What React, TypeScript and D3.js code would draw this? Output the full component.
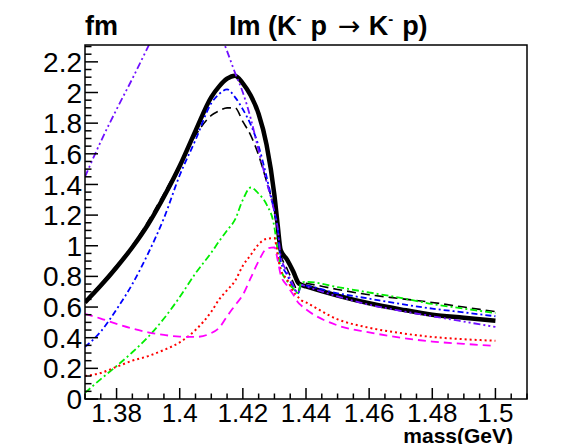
import * as d3 from "d3";

// mass grid (GeV) shared by every curve
const mass = [
  1.37, 1.375, 1.38, 1.385, 1.39, 1.395, 1.4, 1.405, 1.41, 1.4125, 1.415, 1.4175, 1.42, 1.4225, 1.425,
  1.4275, 1.43, 1.431, 1.432, 1.434, 1.436, 1.4375, 1.4385, 1.44, 1.45, 1.46, 1.47, 1.48, 1.49, 1.5,
];

// Im amplitude (fm) for each model
const fullIm = [
  0.63, 0.74, 0.86, 0.99, 1.14, 1.32, 1.52, 1.75, 1.97, 2.04, 2.09, 2.11, 2.06, 1.98, 1.86,
  1.66, 1.33, 1.14, 0.97, 0.91, 0.83, 0.76, 0.745, 0.735, 0.675, 0.625, 0.585, 0.55, 0.53, 0.51,
];
const dashedIm = [
  0.64, 0.75, 0.87, 1.0, 1.16, 1.34, 1.53, 1.72, 1.85, 1.88, 1.9, 1.9, 1.81, 1.72, 1.59,
  1.42, 1.22, 1.08, 0.95, 0.85, 0.76, 0.7, 0.76, 0.755, 0.715, 0.68, 0.655, 0.63, 0.6, 0.57,
];
const blueIm = [
  0.34, 0.44, 0.585, 0.75, 0.95, 1.18, 1.46, 1.69, 1.93, 1.99, 2.02, 1.97, 1.89, 1.79, 1.65,
  1.45, 1.22, 1.12, 0.9, 0.81, 0.73, 0.69, 0.745, 0.74, 0.69, 0.655, 0.62, 0.59, 0.565, 0.54,
];
const violetIm = [
  1.45, 1.68, 1.89, 2.09, 2.3, 2.51, 2.72, 2.78, 2.52, 2.4, 2.27, 2.13, 2.0, 1.83, 1.62,
  1.42, 1.22, 1.12, 0.93, 0.83, 0.74, 0.69, 0.745, 0.735, 0.67, 0.615, 0.575, 0.54, 0.505, 0.47,
];
const greenIm = [
  0.04, 0.13, 0.215, 0.305, 0.405, 0.525, 0.665, 0.82, 0.955, 1.03, 1.1, 1.17, 1.3, 1.38, 1.34,
  1.27, 1.12, 0.97, 0.85, 0.77, 0.72, 0.69, 0.76, 0.765, 0.73, 0.695, 0.66, 0.62, 0.59, 0.56,
];
const redIm = [
  0.15, 0.17, 0.21, 0.25, 0.28, 0.32, 0.37, 0.45, 0.57, 0.65, 0.71, 0.77, 0.87, 0.94, 1.01,
  1.045, 1.05, 0.94, 0.84, 0.78, 0.7, 0.665, 0.645, 0.63, 0.52, 0.465, 0.43, 0.405, 0.39, 0.38,
];
const magentaIm = [
  0.556, 0.525, 0.49, 0.46, 0.435, 0.418, 0.407, 0.405, 0.43, 0.465, 0.54, 0.61, 0.68, 0.79, 0.9,
  0.98, 0.99, 0.91, 0.81, 0.74, 0.68, 0.63, 0.61, 0.585, 0.48, 0.435, 0.4, 0.375, 0.36, 0.346,
];

const xMajor = [1.38, 1.4, 1.42, 1.44, 1.46, 1.48, 1.5];
const yMajor = [0, 0.2, 0.4, 0.6, 0.8, 1, 1.2, 1.4, 1.6, 1.8, 2, 2.2];

const curves = [
  { values: fullIm, color: "#000000", width: 4.5, dash: "none" },
  { values: dashedIm, color: "#000000", width: 1.6, dash: "9,5" },
  { values: blueIm, color: "#0000ff", width: 1.8, dash: "6,3,2,3" },
  { values: violetIm, color: "#7010ff", width: 1.8, dash: "7,3,2,3,2,3" },
  { values: greenIm, color: "#00ee00", width: 1.8, dash: "7,3,2,3" },
  { values: redIm, color: "#ff0000", width: 2, dash: "2,3" },
  { values: magentaIm, color: "#ff00ff", width: 1.8, dash: "8,5" },
];

const font = "'Liberation Sans', Arial, Helvetica, sans-serif";

export default function App() {
  const width = 567;
  const height = 444;
  const margin = { top: 45, right: 40, bottom: 45, left: 85 };

  const x = d3.scaleLinear().domain([1.37, 1.51]).range([margin.left, width - margin.right]);
  const y = d3.scaleLinear().domain([0, 2.31]).range([height - margin.bottom, margin.top]);

  const xMinor = d3.range(1.37, 1.5101, 0.005).map((v) => +v.toFixed(3));
  const yMinor = d3.range(0, 2.31, 0.05).map((v) => +v.toFixed(2));

  const line = d3
    .line<number>()
    .x((_, i) => x(mass[i]))
    .y((d) => y(d))
    .curve(d3.curveMonotoneX);

  const x0 = margin.left;
  const x1 = width - margin.right;
  const y0 = height - margin.bottom;
  const y1 = margin.top;

  return (
    <svg
      width={width}
      height={height}
      style={{ position: "absolute", left: 0, top: 0, display: "block", background: "#fff" }}
      fontFamily={font}
    >
      <defs>
        <clipPath id="plot-area">
          <rect x={x0} y={y1} width={x1 - x0} height={y0 - y1} />
        </clipPath>
      </defs>
      <rect width={width} height={height} fill="#fff" />

      <g clipPath="url(#plot-area)" fill="none">
        {curves.map((c, i) => (
          <path
            key={i}
            d={line(c.values) ?? ""}
            stroke={c.color}
            strokeWidth={c.width}
            strokeDasharray={c.dash}
            strokeLinejoin="round"
          />
        ))}
      </g>

      {/* frame */}
      <rect x={x0} y={y1} width={x1 - x0} height={y0 - y1} fill="none" stroke="#000" strokeWidth={1.5} />

      {/* ticks on the bottom and left axes only */}
      <g stroke="#000" strokeWidth={1.5}>
        {xMinor.map((v) => {
          const major = xMajor.some((m) => Math.abs(m - v) < 1e-6);
          return <line key={v} x1={x(v)} x2={x(v)} y1={y0} y2={y0 - (major ? 11 : 5.5)} />;
        })}
        {yMinor.map((v) => {
          const major = yMajor.some((m) => Math.abs(m - v) < 1e-6);
          return <line key={v} x1={x0} x2={x0 + (major ? 13 : 6.5)} y1={y(v)} y2={y(v)} />;
        })}
      </g>

      {xMajor.map((v) => (
        <text key={v} x={x(v)} y={422} textAnchor="middle" fontSize={26}>
          {String(+v.toFixed(2))}
        </text>
      ))}
      {yMajor.map((v) => (
        <text key={v} x={82} y={y(v)} dy="0.36em" textAnchor="end" fontSize={28}>
          {String(+v.toFixed(1))}
        </text>
      ))}

      <text x={513} y={443} textAnchor="end" fontSize={21} fontWeight="bold">
        mass(GeV)
      </text>

      <text x={85} y={35} fontSize={27} fontWeight="bold">
        fm
      </text>
      <text x={229} y={35} fontSize={27} fontWeight="bold">
        Im (K
        <tspan dy={-11} fontSize={15}>-</tspan>
        <tspan dx={9} dy={11}>p</tspan>
        <tspan dx={11} fontWeight="normal" fontFamily="'DejaVu Sans', sans-serif">→</tspan>
        <tspan dx={8}>K</tspan>
        <tspan dy={-11} fontSize={15}>-</tspan>
        <tspan dx={9} dy={11}>p)</tspan>
      </text>
    </svg>
  );
}
